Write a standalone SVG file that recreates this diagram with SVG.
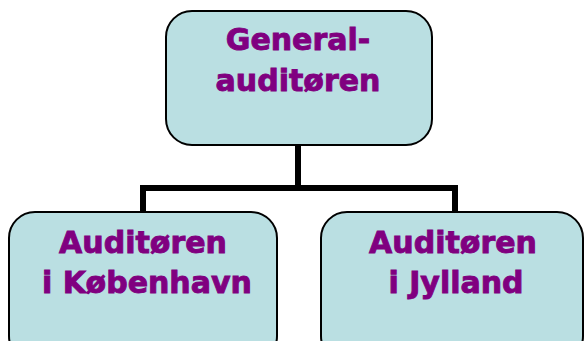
<svg xmlns="http://www.w3.org/2000/svg" width="584" height="341" viewBox="0 0 584 341">
<style>
.box{fill:#badfe2;stroke:#000;stroke-width:2}
.t{font-family:"DejaVu Sans",Verdana,sans-serif;font-weight:bold;font-size:30px;fill:#800080;stroke:#800080;stroke-width:0.9;text-anchor:middle}
.c{fill:none;stroke:#000;stroke-width:6}
</style>
<rect width="584" height="341" fill="#fff"/>
<g id="connectors">
<polyline class="c" points="298,145 298,188"/>
<polyline class="c" points="143,213 143,188 455,188 455,213"/>
</g>
<g id="generalauditoren">
<rect class="box" x="166" y="11" width="266" height="134" rx="26"/>
<text class="t" x="298" y="50">General-</text>
<text class="t" x="298" y="91">auditøren</text>
</g>
<g id="kobenhavn">
<rect class="box" x="9" y="212" width="268" height="150" rx="26"/>
<text class="t" x="143" y="253">Auditøren</text>
<text class="t" x="147" y="293">i København</text>
</g>
<g id="jylland">
<rect class="box" x="321" y="212" width="262" height="150" rx="26"/>
<text class="t" x="453" y="253">Auditøren</text>
<text class="t" x="456" y="293">i Jylland</text>
</g>
</svg>
